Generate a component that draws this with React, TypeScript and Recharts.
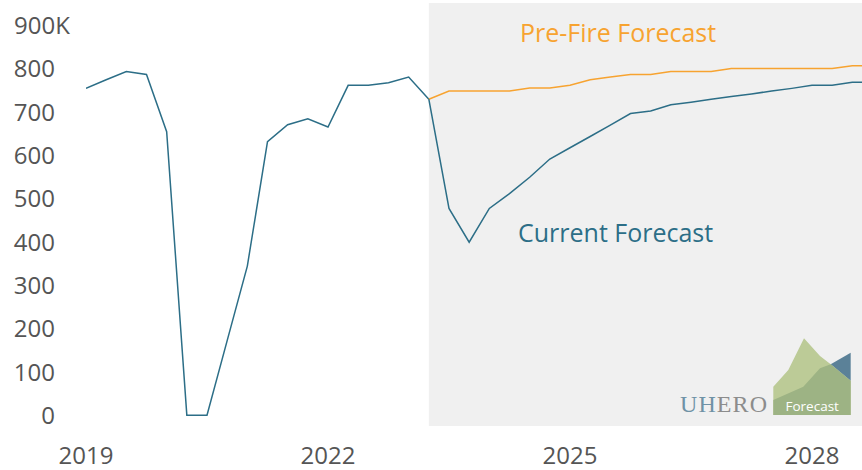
import { LineChart, Line, XAxis, YAxis, ReferenceArea } from 'recharts';

// quarterly visitor arrivals (thousands), index 0 = 2019 Q1
const firstYear = 2019;
const tickYears = [2019, 2022, 2025, 2028];
const yTicks = [0, 100, 200, 300, 400, 500, 600, 700, 800, 900];

// history: 2019 Q1 .. 2023 Q2
const history = [756, 776, 795, 788, 656, 2, 2, 174, 346, 633, 672, 686, 667, 763, 763, 769, 782, 731];
// forecasts start at 2023 Q2 (index 17)
const forecastStart = 17;
const preFire = [731, 750, 750, 750, 750, 757, 757, 763, 776, 782, 788, 788, 795, 795, 795, 802, 802, 802, 802, 802, 802, 808, 808];
const current = [731, 479, 401, 479, 513, 551, 593, 619, 645, 671, 698, 704, 718, 724, 731, 737, 743, 750, 756, 763, 763, 770, 770];

const BLUE = '#2c6e87';
const ORANGE = '#f7a330';
const GREY = '#555555';
const FONT = '"Open Sans", sans-serif';

const total = forecastStart + preFire.length;
const data = Array.from({ length: total }, (_, i) => ({
  i,
  hist: i <= forecastStart ? history[i] : null,
  pre: i >= forecastStart ? preFire[i - forecastStart] : null,
  cur: i >= forecastStart ? current[i - forecastStart] : null,
}));

const xMax = 38.48;

const YTick = ({ y, payload }: any) =>
  payload.value === 900 ? (
    <text x={14} y={y + 8} textAnchor="start" fill={GREY} fontSize={24} fontFamily={FONT}>
      900K
    </text>
  ) : (
    <text x={55} y={y + 8} textAnchor="end" fill={GREY} fontSize={24} fontFamily={FONT}>
      {payload.value}
    </text>
  );

const XTick = ({ x, payload }: any) => (
  <text x={x} y={464} textAnchor="middle" fill={GREY} fontSize={24} fontFamily={FONT}>
    {firstYear + payload.value / 4}
  </text>
);

function Logo() {
  return (
    <svg width={862} height={470} style={{ position: 'absolute', left: 0, top: 0, pointerEvents: 'none' }}>
      <text x={520} y={42} fill={ORANGE} fontSize={25} fontFamily={FONT}>
        Pre-Fire Forecast
      </text>
      <text x={518} y={242} fill={BLUE} fontSize={25} fontFamily={FONT}>
        Current Forecast
      </text>
      <text
        x={680}
        y={412}
        fontSize={24}
        fontFamily='"Liberation Serif", serif'
        textLength={87}
        lengthAdjust="spacing"
      >
        <tspan fill="#6f92a6">UH</tspan>
        <tspan fill="#8c8c8c">ERO</tspan>
      </text>
      <polygon
        points="773.3,386.7 788.3,370 804,338.3 820,356 830.7,364.3 850.7,380.7 850.7,415 773.3,415"
        fill="#bccb97"
      />
      <polygon points="830.7,364.3 850.7,352.7 850.7,380.7" fill="#5b8198" />
      <polygon
        points="773.3,400 803.3,386.7 820,368.3 830.7,364.3 850.7,380.7 850.7,415 773.3,415"
        fill="#9db384"
      />
      <text x={785.5} y={411} fill="#ffffff" fontSize={13.5} fontFamily={FONT}>
        Forecast
      </text>
    </svg>
  );
}

export default function App() {
  return (
    <div style={{ position: 'absolute', left: 0, top: 0, width: 862, height: 470, background: '#fff' }}>
      <LineChart width={862} height={470} data={data} margin={{ top: 3, right: 0, bottom: 0, left: 0 }}>
        <ReferenceArea
          x1={forecastStart}
          x2={xMax}
          y1={-23}
          y2={953}
          fill="#f0f0f0"
          fillOpacity={1}
          stroke="none"
          ifOverflow="hidden"
        />
        <XAxis
          dataKey="i"
          type="number"
          domain={[0, xMax]}
          allowDataOverflow
          ticks={tickYears.map((yr) => (yr - firstYear) * 4)}
          tick={<XTick />}
          tickLine={false}
          axisLine={false}
          height={44}
        />
        <YAxis
          type="number"
          domain={[-23, 953]}
          allowDataOverflow
          ticks={yTicks}
          tick={<YTick />}
          tickLine={false}
          axisLine={false}
          width={86}
        />
        <Line
          dataKey="hist"
          type="linear"
          stroke={BLUE}
          strokeWidth={1.5}
          dot={false}
          isAnimationActive={false}
        />
        <Line
          dataKey="pre"
          type="linear"
          stroke={ORANGE}
          strokeWidth={1.5}
          dot={false}
          isAnimationActive={false}
        />
        <Line
          dataKey="cur"
          type="linear"
          stroke={BLUE}
          strokeWidth={1.5}
          dot={false}
          isAnimationActive={false}
        />
      </LineChart>
      <Logo />
    </div>
  );
}
